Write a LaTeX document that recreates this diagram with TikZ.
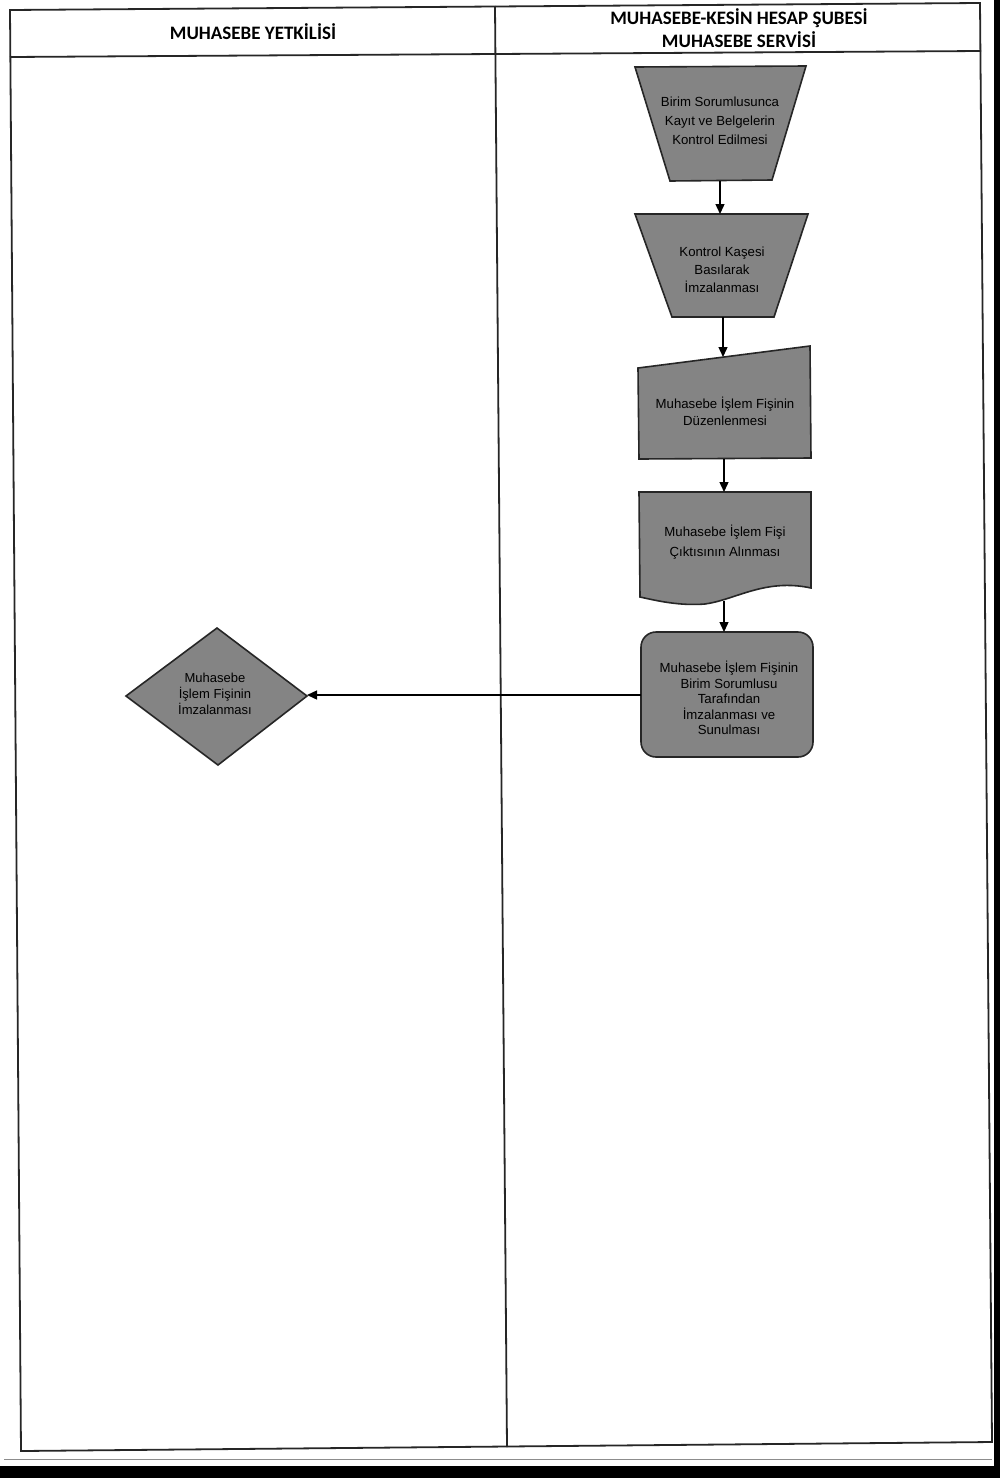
\documentclass[tikz,border=0pt]{standalone}
\usepackage{fontspec}
\setmainfont{Liberation Sans}
\newfontfamily\hdrfont{Carlito}
\usetikzlibrary{arrows.meta}
\definecolor{boxgray}{RGB}{132,132,132}
\begin{document}
\begin{tikzpicture}[x=1pt,y=-1pt,
  shapeline/.style={draw=black!85,line width=1.6pt,fill=boxgray},
  lbl/.style={align=center,inner sep=0pt,text=black},
  flow/.style={draw=black,line width=1.4pt,-{Triangle[length=10pt,width=9pt]}},
  tableline/.style={draw=black!85,line width=1.8pt},
  hdr/.style={font=\hdrfont\bfseries\fontsize{19}{23}\selectfont,align=center,inner sep=0pt}]

\useasboundingbox (0,0) rectangle (1000,1478);
\fill[white] (0,0) rectangle (1000,1478);

% scan edges
\fill[black] (0,1466) rectangle (1000,1478);
\fill[black] (994,0) rectangle (1000,1478);
\draw[black!45,line width=1pt] (4,1459) -- (992,1459);

% table frame
\coordinate (TL) at (10,10);
\coordinate (TR) at (980,3);
\coordinate (BR) at (992,1442);
\coordinate (BL) at (21,1451);
\draw[tableline] (TL) -- (TR) -- (BR) -- (BL) -- cycle;
\coordinate (HL) at (10,57);
\coordinate (HR) at (981,51);
\draw[tableline] (HL) -- (HR);
\coordinate (DT) at (495,6);
\coordinate (DB) at (507,1447);
\draw[tableline] (DT) -- (DB);

% headers
\node[hdr] (h1) at (253,32) {MUHASEBE YETKİLİSİ};
\node[hdr] (h2) at (739,28.5) {MUHASEBE-KESİN HESAP ŞUBESİ\\MUHASEBE SERVİSİ};

% shape 1: manual operation
\draw[shapeline] (635,67) -- (806,66) -- (772,180) -- (670,181) -- cycle;
\node[lbl,font=\fontsize{13.2}{19}\selectfont] (s1) at (720,121) {Birim Sorumlusunca\\Kayıt ve Belgelerin\\Kontrol Edilmesi};
\coordinate (s1b) at (720,181);

% shape 2: manual operation
\draw[shapeline] (635,214) -- (808,214) -- (774,317) -- (672,317) -- cycle;
\node[lbl,font=\fontsize{13.2}{18}\selectfont] (s2) at (722,270) {Kontrol Kaşesi\\Basılarak\\İmzalanması};
\coordinate (s2t) at (720,214);
\coordinate (s2b) at (723,317);

% shape 3: manual input
\draw[shapeline] (638,368) -- (810,346) -- (811,458) -- (639,459) -- cycle;
\node[lbl,font=\fontsize{13.2}{17}\selectfont] (s3) at (725,411) {Muhasebe İşlem Fişinin\\Düzenlenmesi};
\coordinate (s3t) at (723,357);
\coordinate (s3b) at (724,459);

% shape 4: document
\draw[shapeline] (639,492) -- (811,492) -- (811,588)
  .. controls (765,578) and (735,600) .. (705,604)
  .. controls (680,606) and (658,601) .. (640,597) -- cycle;
\node[lbl,font=\fontsize{13.2}{20}\selectfont] (s4) at (725,542) {Muhasebe İşlem Fişi\\Çıktısının Alınması};
\coordinate (s4t) at (724,492);
\coordinate (s4b) at (724,601);

% shape 5: rounded process
\draw[shapeline,rounded corners=15pt] (641,632) rectangle (813,757);
\node[lbl,font=\fontsize{13.2}{15.6}\selectfont] (s5) at (729,698) {Muhasebe İşlem Fişinin\\Birim Sorumlusu\\Tarafından\\İmzalanması ve\\Sunulması};
\coordinate (s5t) at (724,632);
\coordinate (s5l) at (641,695);

% shape 6: decision
\draw[shapeline] (126,696) -- (217,628) -- (307,696) -- (218,765) -- cycle;
\node[lbl,font=\fontsize{13}{16}\selectfont] (s6) at (215,694) {Muhasebe\\İşlem Fişinin\\İmzalanması};
\coordinate (s6r) at (307,695);

% connectors
\draw[flow] (s1b) -- (s2t);
\draw[flow] (s2b) -- (s3t);
\draw[flow] (s3b) -- (s4t);
\draw[flow] (s4b) -- (s5t);
\draw[flow] (s5l) -- (s6r);
\end{tikzpicture}
\end{document}
